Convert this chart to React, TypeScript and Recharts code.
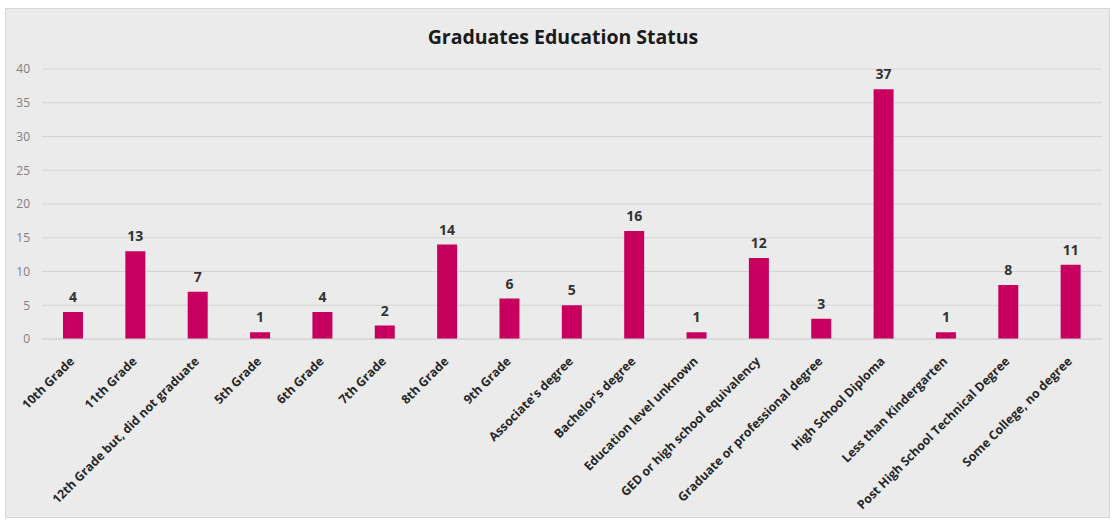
import React from "react";
import { BarChart, Bar, XAxis, YAxis, CartesianGrid, LabelList } from "recharts";

const categories = [
  "10th Grade",
  "11th Grade",
  "12th Grade but, did not graduate",
  "5th Grade",
  "6th Grade",
  "7th Grade",
  "8th Grade",
  "9th Grade",
  "Associate's degree",
  "Bachelor's degree",
  "Education level unknown",
  "GED or high school equivalency",
  "Graduate or professional degree",
  "High School Diploma",
  "Less than Kindergarten",
  "Post High School Technical Degree",
  "Some College, no degree",
];
const counts = [4, 13, 7, 1, 4, 2, 14, 6, 5, 16, 1, 12, 3, 37, 1, 8, 11];
const yTicks = [0, 5, 10, 15, 20, 25, 30, 35, 40];

const data = categories.map((c, i) => ({ name: c, value: counts[i] }));

const FONT = "'Open Sans', sans-serif";

const XTick = (props: any) => {
  const { x, y, payload } = props;
  return (
    <g transform={`translate(${x + 2},${y + 15})`}>
      <text
        x={0}
        y={0}
        textAnchor="end"
        transform="rotate(-45)"
        fontFamily={FONT}
        fontWeight={700}
        fontSize={12.3}
        fill="#262626"
      >
        {payload.value}
      </text>
    </g>
  );
};

export default function App() {
  return (
    <div
      style={{
        position: "absolute",
        left: 5,
        top: 8,
        width: 1103,
        height: 508,
        background: "#EBEBEB",
        border: "1px solid #D6D6D6",
      }}
    >
      <div
        style={{
          position: "absolute",
          left: 0,
          top: 14,
          width: 1114,
          textAlign: "center",
          fontFamily: FONT,
          fontWeight: 700,
          fontSize: 19.5,
          color: "#1a1a1a",
        }}
      >
        Graduates Education Status
      </div>
      <BarChart
        width={1103}
        height={508}
        data={data}
        margin={{ top: 60, right: 7, left: 0, bottom: 0 }}
        barCategoryGap={0}
      >
        <CartesianGrid horizontal vertical={false} stroke="#D4D4D4" strokeWidth={1} />
        <XAxis
          dataKey="name"
          interval={0}
          height={178}
          tickLine={false}
          axisLine={{ stroke: "#D4D4D4" }}
          tick={<XTick />}
        />
        <YAxis
          width={36}
          domain={[0, 40]}
          ticks={yTicks}
          tickLine={false}
          axisLine={false}
          tick={{ fill: "#808080", fontSize: 12, fontFamily: FONT }}
          dx={-4}
        />
        <Bar dataKey="value" fill="#C70060" barSize={20} isAnimationActive={false}>
          <LabelList
            dataKey="value"
            position="top"
            offset={10}
            fill="#333333"
            fontFamily={FONT}
            fontWeight={700}
            fontSize={14}
          />
        </Bar>
      </BarChart>
    </div>
  );
}
